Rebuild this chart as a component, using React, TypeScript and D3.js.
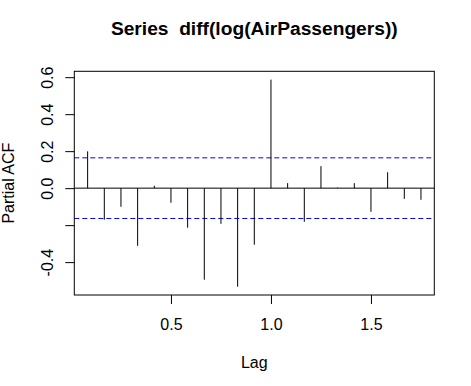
import React, { useEffect, useRef } from "react";
import * as d3 from "d3";

// PACF of diff(log(AirPassengers)), lags 1..21 (in years, frequency 12)
const lagIndex = d3.range(1, 22);
const pacfValues = [
  0.199, -0.171, -0.101, -0.312, 0.013, -0.079, -0.214, -0.495, -0.193, -0.533, -0.306,
  0.587, 0.027, -0.182, 0.119, 0.003, 0.027, -0.128, 0.086, -0.058, -0.063,
];
const confLimit = 1.96 / Math.sqrt(143);
const xTicks = [0.5, 1.0, 1.5];
const yTicks = [-0.4, -0.2, 0.0, 0.2, 0.4, 0.6];
// R drops the -0.2 label because it would overlap its neighbours
const yTickLabels = ["-0.4", "", "0.0", "0.2", "0.4", "0.6"];

const W = 471;
const H = 386;

export default function App() {
  const ref = useRef<SVGSVGElement>(null);

  useEffect(() => {
    const svg = d3.select(ref.current);
    svg.selectAll("*").remove();

    const margin = { top: 71.3, left: 74.3, right: W - 434.3, bottom: H - 295 };
    const data = lagIndex.map((k, i) => ({ lag: k / 12, v: pacfValues[i] }));

    // R style axis extension: 4% on each side
    const xr = d3.extent(data, (d) => d.lag) as [number, number];
    const xpad = (xr[1] - xr[0]) * 0.04;
    const yMin = Math.min(-confLimit, d3.min(data, (d) => d.v)!);
    const yMax = Math.max(confLimit, d3.max(data, (d) => d.v)!);
    const ypad = (yMax - yMin) * 0.04;

    const x = d3.scaleLinear()
      .domain([xr[0] - xpad, xr[1] + xpad])
      .range([margin.left, W - margin.right]);
    const y = d3.scaleLinear()
      .domain([yMin - ypad, yMax + ypad])
      .range([H - margin.bottom, margin.top]);

    const font = "'Liberation Sans', Arial, sans-serif";

    // zero line
    svg.append("line")
      .attr("x1", x.range()[0]).attr("x2", x.range()[1])
      .attr("y1", y(0)).attr("y2", y(0))
      .attr("stroke", "#000").attr("stroke-width", 1);

    // confidence limits
    [confLimit, -confLimit].forEach((c) => {
      svg.append("line")
        .attr("x1", x.range()[0]).attr("x2", x.range()[1])
        .attr("y1", y(c)).attr("y2", y(c))
        .attr("stroke", "#0000ff").attr("stroke-width", 1)
        .attr("stroke-dasharray", "5,3");
    });

    // spikes
    svg.selectAll("line.spike")
      .data(data)
      .enter()
      .append("line")
        .attr("class", "spike")
        .attr("x1", (d) => x(d.lag)).attr("x2", (d) => x(d.lag))
        .attr("y1", y(0)).attr("y2", (d) => y(d.v))
        .attr("stroke", "#000").attr("stroke-width", 1);

    // box
    svg.append("rect")
      .attr("x", x.range()[0]).attr("y", y.range()[1])
      .attr("width", x.range()[1] - x.range()[0])
      .attr("height", y.range()[0] - y.range()[1])
      .attr("fill", "none").attr("stroke", "#000").attr("stroke-width", 1);

    // x axis
    const xaxis = d3.axisBottom(x).tickValues(xTicks).tickSize(9).tickSizeOuter(0)
      .tickFormat(d3.format(".1f"));
    const gx = svg.append("g")
      .attr("transform", `translate(0,${y.range()[0]})`)
      .call(xaxis);
    gx.select(".domain").remove();
    gx.selectAll("text").attr("dy", "0").attr("y", 35)
      .style("font-family", font).style("font-size", "16px").attr("fill", "#000");

    // y axis
    const yaxis = d3.axisLeft(y).tickValues(yTicks).tickSize(9).tickSizeOuter(0)
      .tickFormat((d, i) => yTickLabels[i]);
    const gy = svg.append("g")
      .attr("transform", `translate(${x.range()[0]},0)`)
      .call(yaxis);
    gy.select(".domain").remove();
    gy.selectAll("text")
      .attr("x", 0).attr("y", 0).attr("dy", "0")
      .attr("text-anchor", "middle")
      .attr("transform", "translate(-21.8,0) rotate(-90)")
      .style("font-family", font).style("font-size", "16px").attr("fill", "#000");

    // labels
    const cx = (x.range()[0] + x.range()[1]) / 2;
    svg.append("text")
      .attr("x", cx).attr("y", 35)
      .attr("text-anchor", "middle")
      .attr("xml:space", "preserve")
      .style("font-family", font).style("font-size", "19.2px").style("font-weight", "bold")
      .style("white-space", "pre")
      .text("Series  diff(log(AirPassengers))");

    svg.append("text")
      .attr("x", cx).attr("y", 368)
      .attr("text-anchor", "middle")
      .style("font-family", font).style("font-size", "16px")
      .text("Lag");

    const cy = (y.range()[0] + y.range()[1]) / 2;
    svg.append("text")
      .attr("transform", `translate(13.5,${cy}) rotate(-90)`)
      .attr("text-anchor", "middle")
      .style("font-family", font).style("font-size", "16px")
      .text("Partial ACF");
  }, []);

  return (
    <div style={{ position: "absolute", left: 0, top: 0, background: "#fff" }}>
      <svg ref={ref} width={W} height={H} style={{ display: "block" }} />
    </div>
  );
}
